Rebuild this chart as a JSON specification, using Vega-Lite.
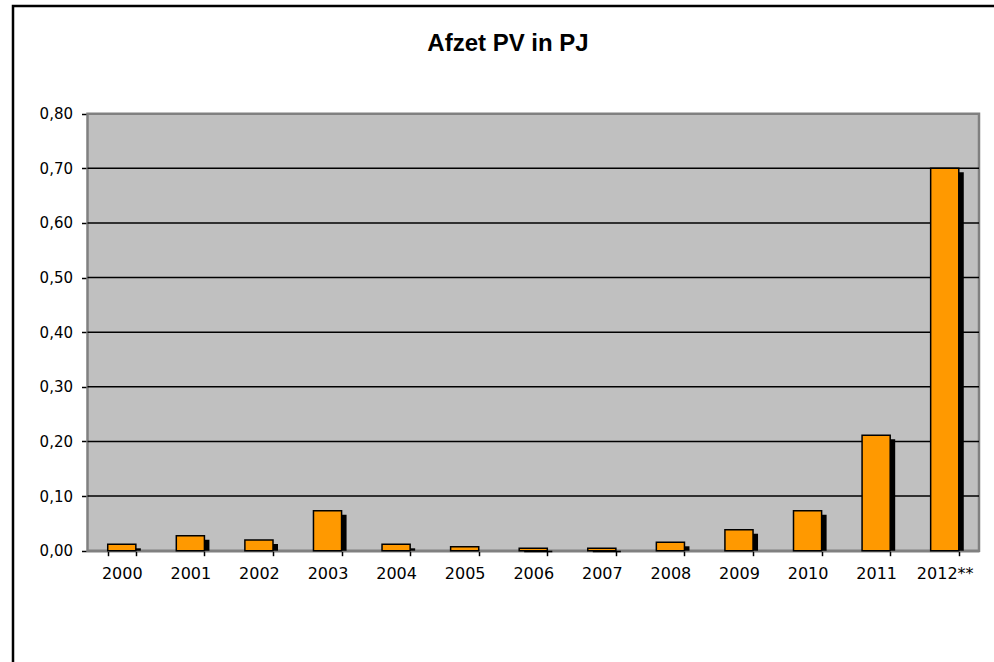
{
  "$schema": "https://vega.github.io/schema/vega-lite/v6.json",
  "width": 990,
  "height": 700,
  "autosize": {"type": "none"},
  "padding": {"left": 13, "top": 6, "right": 0, "bottom": 0},
  "background": "white",
  "config": {
    "view": {"stroke": "black", "strokeWidth": 2.5, "fill": "white"},
    "font": "Liberation Sans"
  },
  "title": {
    "text": "Afzet PV in PJ",
    "font": "Liberation Sans",
    "fontSize": 24,
    "fontWeight": "bold",
    "color": "black",
    "anchor": "middle",
    "frame": "group",
    "baseline": "alphabetic",
    "offset": -44,
    "dy": 25
  },
  "datasets": {
    "afzet": [
      {"jaar": "2000", "pj": 0.0117},
      {"jaar": "2001", "pj": 0.0275},
      {"jaar": "2002", "pj": 0.0196},
      {"jaar": "2003", "pj": 0.0732},
      {"jaar": "2004", "pj": 0.0117},
      {"jaar": "2005", "pj": 0.0073},
      {"jaar": "2006", "pj": 0.0044},
      {"jaar": "2007", "pj": 0.0044},
      {"jaar": "2008", "pj": 0.0154},
      {"jaar": "2009", "pj": 0.0384},
      {"jaar": "2010", "pj": 0.0732},
      {"jaar": "2011", "pj": 0.2112},
      {"jaar": "2012**", "pj": 0.70}
    ],
    "grid": [
      {"g": 0.1}, {"g": 0.2}, {"g": 0.3}, {"g": 0.4}, {"g": 0.5}, {"g": 0.6}, {"g": 0.7}
    ]
  },
  "layer": [
    {
      "data": {"values": [{}]},
      "mark": {"type": "rect", "fill": "#C0C0C0", "stroke": "#808080", "strokeWidth": 2.5},
      "encoding": {
        "x": {"datum": 0, "type": "quantitative", "scale": {"domain": [0, 1], "range": [74.5, 966]}, "axis": null},
        "x2": {"datum": 1},
        "y": {"datum": 0, "type": "quantitative", "scale": {"domain": [0, 0.8], "range": [544.7, 107.7]}, "title": null},
        "y2": {"datum": 0.8}
      }
    },
    {
      "data": {"name": "grid"},
      "mark": {"type": "rule", "color": "black", "strokeWidth": 1.5},
      "encoding": {
        "x": {"datum": 0, "type": "quantitative", "scale": {"domain": [0, 1], "range": [74.5, 966]}, "axis": null},
        "x2": {"datum": 1},
        "y": {"field": "g", "type": "quantitative", "scale": {"domain": [0, 0.8], "range": [544.7, 107.7]}, "title": null}
      }
    },
    {
      "data": {"name": "afzet"},
      "mark": {"type": "bar", "fill": "black", "xOffset": 5, "x2Offset": 5, "yOffset": 4, "y2Offset": 0},
      "encoding": {
        "x": {"field": "jaar", "type": "nominal", "sort": null,
              "scale": {"domain": ["2000","2001","2002","2003","2004","2005","2006","2007","2008","2009","2010","2011","2012**"], "range": [74.5, 966], "paddingInner": 0.59, "paddingOuter": 0.295},
              "axis": null},
        "y": {"field": "pj", "type": "quantitative", "scale": {"domain": [0, 0.8], "range": [544.7, 107.7]}, "title": null},
        "y2": {"datum": 0}
      }
    },
    {
      "data": {"name": "afzet"},
      "mark": {"type": "bar", "fill": "#FF9900", "stroke": "black", "strokeWidth": 1.5},
      "encoding": {
        "x": {"field": "jaar", "type": "nominal", "sort": null,
              "scale": {"domain": ["2000","2001","2002","2003","2004","2005","2006","2007","2008","2009","2010","2011","2012**"], "range": [74.5, 966], "paddingInner": 0.59, "paddingOuter": 0.295},
              "title": null,
              "axis": {
                "orient": "bottom", "offset": -155.3, "labelAngle": 0,
                "tickBand": "extent", "domainColor": "black", "domainWidth": 2,
                "tickColor": "black", "tickWidth": 1.5, "tickSize": 5,
                "labelFont": "DejaVu Sans", "labelFontSize": 16, "labelColor": "black",
                "labelPadding": 10, "grid": false
              }},
        "y": {"field": "pj", "type": "quantitative", "scale": {"domain": [0, 0.8], "range": [544.7, 107.7]}, "title": null,
              "axis": {
                "orient": "left", "offset": -74.5,
                "values": [0, 0.1, 0.2, 0.3, 0.4, 0.5, 0.6, 0.7, 0.8],
                "labelExpr": "replace(format(datum.value, '.2f'), '.', ',')",
                "domainColor": "black", "domainWidth": 2,
                "tickColor": "black", "tickWidth": 1.5, "tickSize": 6,
                "labelFont": "DejaVu Sans", "labelFontSize": 15, "labelColor": "black",
                "labelPadding": 9, "grid": false
              }}
      }
    }
  ],
  "resolve": {"scale": {"x": "independent"}, "axis": {"x": "independent"}}
}
